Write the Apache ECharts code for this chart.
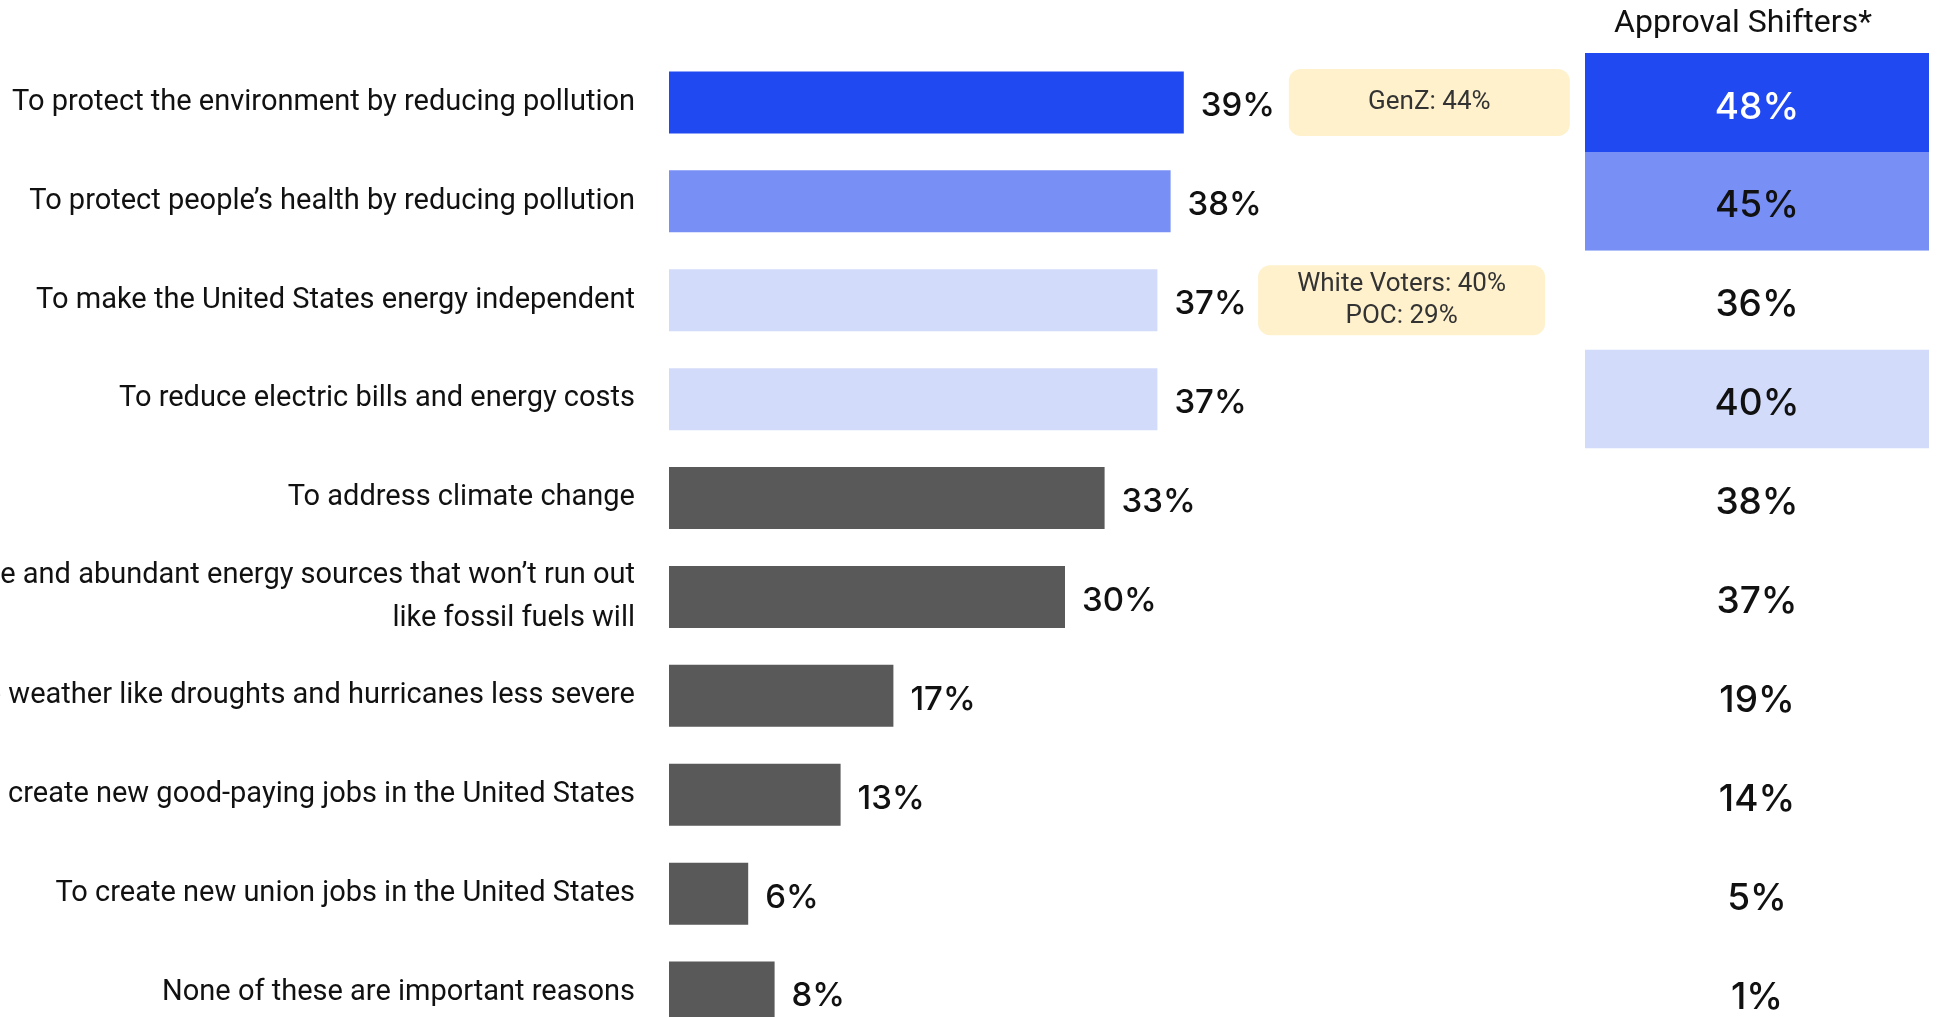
<!DOCTYPE html>
<html>
<head>
<meta charset="utf-8">
<script src="https://cdn.jsdelivr.net/npm/echarts@6/dist/echarts.min.js"></script>
<style>
  html, body { margin: 0; padding: 0; background: #fff; }
  #chart { width: 1938px; height: 1017px; }
</style>
</head>
<body>
<div id="chart"></div>
<script>
// reasons, in the order they are shown from the top
const reasons = [
    "To protect the environment by reducing pollution",
    "To protect people\u2019s health by reducing pollution",
    "To make the United States energy independent",
    "To reduce electric bills and energy costs",
    "To address climate change",
    "To provide renewable and abundant energy sources that won\u2019t run out\nlike fossil fuels will",
    "To make extreme weather like droughts and hurricanes less severe",
    "To create new good-paying jobs in the United States",
    "To create new union jobs in the United States",
    "None of these are important reasons"
];
const allVoters = [39, 38, 37, 37, 33, 30, 17, 13, 6, 8];
const shifters = [48, 45, 36, 40, 38, 37, 19, 14, 5, 1];
const barColors = ["#2149f2", "#7890f5", "#d3dbfa", "#d3dbfa", "#595959", "#595959", "#595959", "#595959", "#595959", "#595959"];
const cellColors = ["#2149f2", "#7890f5", "#ffffff", "#d3dbfa", "#ffffff", "#ffffff", "#ffffff", "#ffffff", "#ffffff", "#ffffff"];
// callouts next to some bars
const calloutRows = [0, 2];
const calloutText = ["GenZ: 44%", "White Voters: 40%\nPOC: 29%"];

const labelFont = "Roboto";
const numFont = "Inter";

let myChart = echarts.init(document.getElementById("chart"));

let barData = [];
for (let i = 0; i < allVoters.length; i++) {
    barData.push({
        value: allVoters[i],
        itemStyle: { color: barColors[i] }
    });
}
let cellData = [];
for (let i = 0; i < shifters.length; i++) {
    cellData.push({
        value: 1,
        itemStyle: { color: cellColors[i] },
        label: { color: i === 0 ? "#ffffff" : "#111111" }
    });
}
// callout boxes sit to the right of the bar labels
let callouts = [
    { coord: [57.6, reasons[calloutRows[0]]], label: { width: 281, height: 67 }, value: calloutText[0] },
    { coord: [55.5, reasons[calloutRows[1]]], label: { width: 287, height: 70 }, value: calloutText[1] }
];

let option = {
    animation: false,
    grid: [
        { left: 669, top: 53, width: 924, height: 989, outerBoundsMode: "none" },
        { left: 1585, top: 53, width: 344, height: 989, outerBoundsMode: "none" }
    ],
    xAxis: [
        { gridIndex: 0, type: "value", min: 0, max: 70, show: false },
        { gridIndex: 1, type: "value", min: 0, max: 1, show: false }
    ],
    yAxis: [
        {
            gridIndex: 0,
            type: "category",
            inverse: true,
            data: reasons,
            axisLine: { show: false },
            axisTick: { show: false },
            axisLabel: {
                margin: 34,
                fontFamily: labelFont,
                fontSize: 29,
                lineHeight: 43,
                color: "#111111",
                align: "right"
            }
        },
        {
            gridIndex: 1,
            type: "category",
            inverse: true,
            data: reasons,
            show: false
        }
    ],
    graphic: [{
        type: "text",
        x: 1743,
        y: 24,
        style: {
            text: "Approval Shifters*",
            font: "32px " + labelFont,
            fill: "#111111",
            textAlign: "center",
            textVerticalAlign: "middle"
        }
    }],
    series: [
        {
            name: "All voters",
            type: "bar",
            xAxisIndex: 0,
            yAxisIndex: 0,
            barWidth: 62,
            data: barData,
            label: {
                show: true,
                position: "right",
                distance: 17,
                offset: [0, 4],
                formatter: "{c}%",
                fontFamily: numFont,
                fontWeight: 500,
                fontSize: 33,
                color: "#111111"
            },
            markPoint: {
                symbol: "rect",
                symbolSize: 1,
                itemStyle: { color: "rgba(0,0,0,0)" },
                label: {
                    show: true,
                    position: "inside",
                    formatter: function (p) { return p.value; },
                    backgroundColor: "#fef1cc",
                    borderRadius: 12,
                    align: "center",
                    verticalAlign: "middle",
                    fontFamily: labelFont,
                    fontSize: 26,
                    lineHeight: 32,
                    color: "#333333"
                },
                data: callouts
            }
        },
        {
            name: "Approval Shifters",
            type: "bar",
            xAxisIndex: 1,
            yAxisIndex: 1,
            barWidth: "100%",
            data: cellData,
            label: {
                show: true,
                position: "inside",
                offset: [0, 5],
                formatter: function (p) { return shifters[p.dataIndex] + "%"; },
                fontFamily: numFont,
                fontWeight: 500,
                fontSize: 37
            }
        }
    ]
};
myChart.setOption(option);
window.addEventListener("resize", function () {
    myChart.resize();
});
</script>
</body>
</html>
